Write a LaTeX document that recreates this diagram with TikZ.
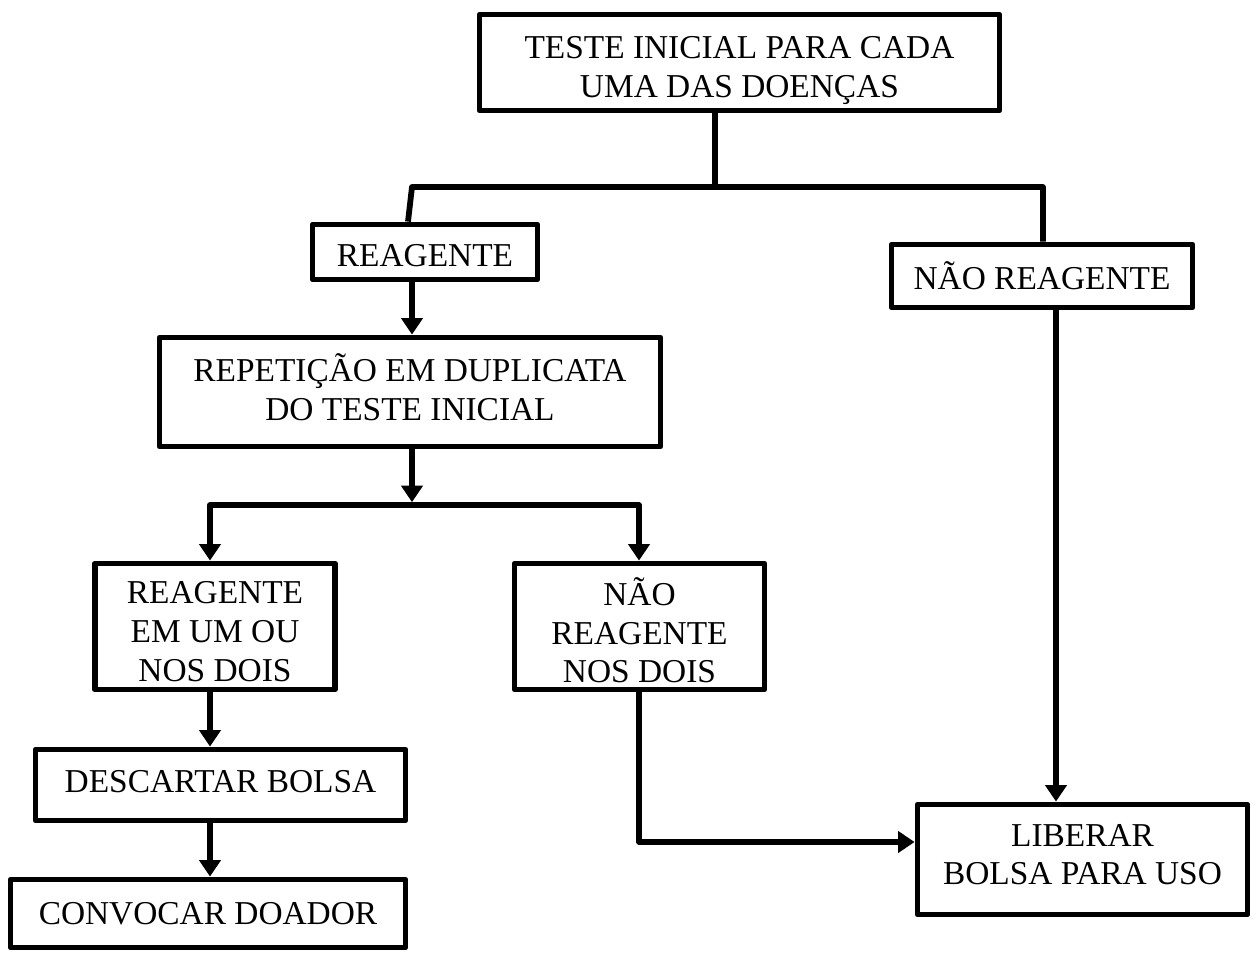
\documentclass[tikz,border=0pt]{standalone}
\usepackage{fontspec}
\setmainfont{Liberation Serif}
\usetikzlibrary{arrows.meta}
\begin{document}
\begin{tikzpicture}[x=0.02cm, y=-0.02cm,
  box/.style={draw, line width=3.3pt, line join=round, inner sep=0pt},
  txt/.style={align=center, inner sep=0pt, font=\fontsize{19}{22}\selectfont},
  % caption of a box, moved down by #1 units from its centre
  cap/.style 2 args={label={[txt, yshift=-#1*0.02cm]center:{#2}}},
  link/.style={line width=3.3pt, line join=round},
  arr/.style={link, -{Triangle[width=0.42cm, length=0.33cm]}}]
\useasboundingbox (0,0) rectangle (1252,954);

% boxes
\node[box, minimum width=520*0.02cm, minimum height=96*0.02cm,
  cap={8}{TESTE INICIAL PARA CADA\\UMA DAS DOENÇAS}] (top) at (739.5,62.5) {};
\node[box, minimum width=225*0.02cm, minimum height=55*0.02cm,
  cap={4}{REAGENTE}] (reag) at (425,252) {};
\node[box, minimum width=301*0.02cm, minimum height=63*0.02cm,
  cap={0}{NÃO REAGENTE}] (naoreag) at (1042,276) {};
\node[box, minimum width=501*0.02cm, minimum height=109*0.02cm,
  cap={-5}{REPETIÇÃO EM DUPLICATA\\DO TESTE INICIAL}] (rep) at (410,392) {};
\node[box, minimum width=240*0.02cm, minimum height=126*0.02cm,
  cap={5}{REAGENTE\\EM UM OU\\NOS DOIS}] (reag2) at (215,626.5) {};
\node[box, minimum width=250*0.02cm, minimum height=126*0.02cm,
  cap={4}{NÃO\\REAGENTE\\NOS DOIS}] (nao2) at (639.5,626.5) {};
\node[box, minimum width=370*0.02cm, minimum height=71*0.02cm,
  cap={-3}{DESCARTAR BOLSA}] (desc) at (220.5,785) {};
\node[box, minimum width=395*0.02cm, minimum height=68*0.02cm,
  cap={0}{CONVOCAR DOADOR}] (conv) at (208,913.5) {};
\node[box, minimum width=330*0.02cm, minimum height=110*0.02cm,
  cap={-5}{LIBERAR\\BOLSA PARA USO}] (lib) at (1082.5,859.5) {};

% junction points
\coordinate (jA) at (715,187);
\coordinate (jL) at (412,187);
\coordinate (jR) at (1043,187);
\coordinate (cR) at (408,0);
\coordinate (c412) at (412,0);
\coordinate (jS) at (412,505);
\coordinate (jSL) at (210,505);
\coordinate (jSR) at (639,505);
\coordinate (c1056) at (1056,0);
\coordinate (c842) at (0,842);

% connectors
\draw[link] (top.south -| jA) -- (jA);
\draw[link] (reag.north -| cR) -- (jL) -- (jR) -- (naoreag.north -| jR);
\draw[arr] (reag.south -| c412) -- (rep.north -| c412);
\draw[arr, shorten >=1.6pt] (rep.south -| c412) -- (jS);
\draw[arr] (jS) -- (jSL) -- (reag2.north -| jSL);
\draw[arr] (jS) -- (jSR) -- (nao2.north -| jSR);
\draw[arr] (reag2.south -| jSL) -- (desc.north -| jSL);
\draw[arr] (desc.south -| jSL) -- (conv.north -| jSL);
\draw[arr] (naoreag.south -| c1056) -- (lib.north -| c1056);
\draw[arr] (nao2.south -| jSR) |- (lib.west |- c842);
\end{tikzpicture}
\end{document}
